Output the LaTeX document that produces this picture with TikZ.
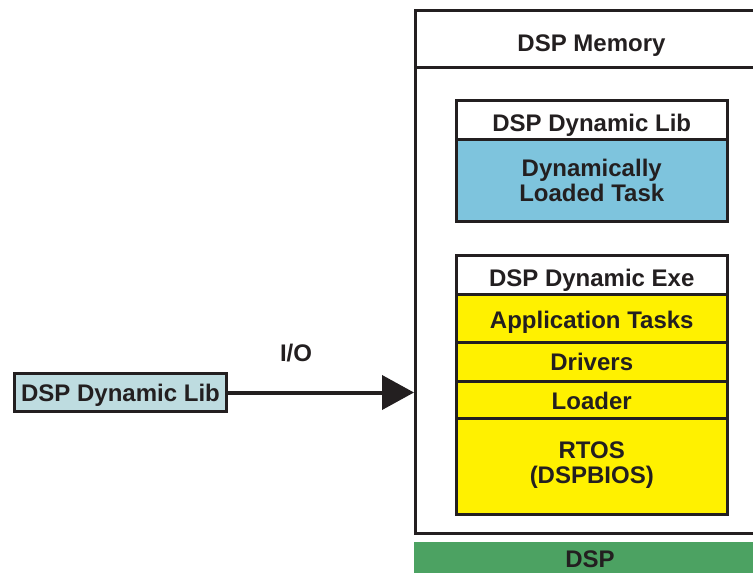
\documentclass[tikz,border=0pt]{standalone}
\usepackage{fontspec}
\setmainfont{Liberation Sans}
\usetikzlibrary{arrows.meta}
\definecolor{txt}{HTML}{231F20}
\definecolor{libblue}{HTML}{7EC4DD}
\definecolor{exeyel}{HTML}{FFF100}
\definecolor{dspgreen}{HTML}{4CA262}
\definecolor{lightcyan}{HTML}{BEDCE0}
\tikzset{
  lbl/.style={font=\fontsize{24}{25}\selectfont\bfseries, text=txt, align=center, inner sep=0pt, text height=17pt, text depth=0pt},
  blk/.style={draw=txt, line width=2.5pt, anchor=north west, lbl},
  headlbl/.style={text height=24pt},
  twoline/.style={text height=42pt},
}
\begin{document}
\begin{tikzpicture}[x=1pt,y=-1pt]
\useasboundingbox (0,0) rectangle (753,573);
\clip (0,0) rectangle (753,573);
% DSP bar
\node[fill=dspgreen, minimum width=352pt, minimum height=40pt, anchor=north west] (dsp) at (414,542) {};
\node[lbl] (dsptxt) at (590,559) {DSP};
% memory box
\node[draw=txt, line width=3pt, minimum width=352pt, minimum height=523pt, anchor=north west] (mem) at (414,9) {};
\node[draw=txt, line width=3pt, minimum width=352pt, minimum height=57pt, anchor=north west, lbl, headlbl] (memhead) at (414,9) {DSP Memory};
% dynamic lib
\node[blk, headlbl, fill=white, minimum width=271pt, minimum height=39pt] (dlhead) at (455,99) {DSP Dynamic Lib};
\node[blk, twoline, fill=libblue, minimum width=271pt, minimum height=82pt] (dltask) at (455,138) {Dynamically\\Loaded Task};
% dynamic exe
\node[blk, headlbl, fill=white, minimum width=271pt, minimum height=39pt] (exehead) at (455,254) {DSP Dynamic Exe};
\node[blk, text height=21pt, fill=exeyel, minimum width=271pt, minimum height=48pt] (app) at (455,293) {Application Tasks};
\node[blk, fill=exeyel, minimum width=271pt, minimum height=39pt] (drv) at (455,341) {Drivers};
\node[blk, text height=20pt, fill=exeyel, minimum width=271pt, minimum height=37pt] (ldr) at (455,380) {Loader};
\node[blk, text height=34pt, fill=exeyel, minimum width=271pt, minimum height=96pt] (rtos) at (455,417) {RTOS\\(DSPBIOS)};
% left lib
\node[draw=txt, fill=lightcyan, line width=3pt, minimum width=212pt, minimum height=38pt, anchor=north west, lbl] (lib) at (13,372) {DSP Dynamic Lib};
% arrow
\draw[txt, line width=4pt, -{Triangle[length=32pt,width=34pt]}] (lib.east) -- (mem.west |- lib.east);
\node[lbl] (io) at (296,353) {I/O};
\end{tikzpicture}
\end{document}
